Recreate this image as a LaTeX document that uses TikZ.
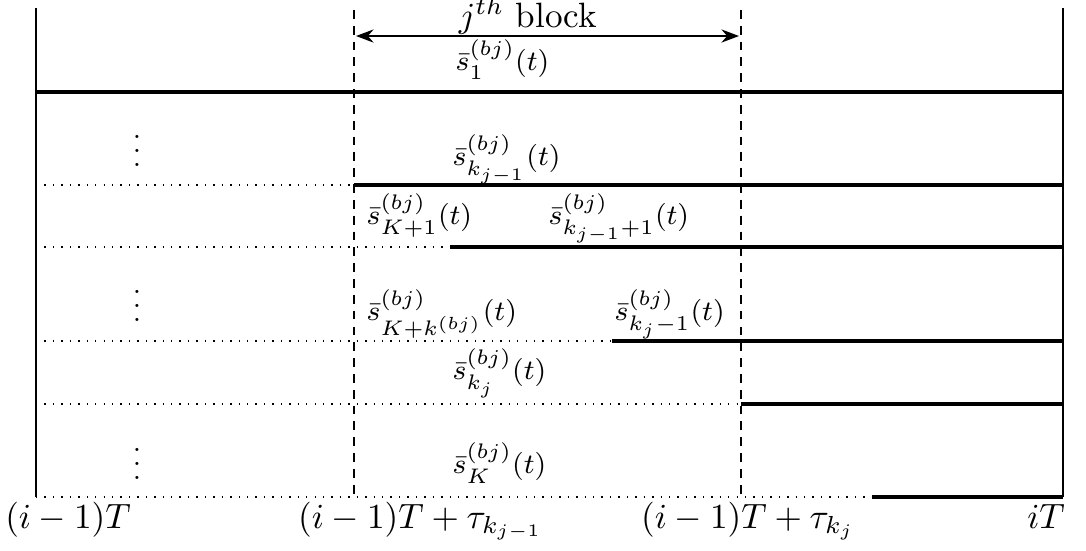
\documentclass[tikz,border=0pt]{standalone}
\usetikzlibrary{arrows.meta}

\begin{document}
\begin{tikzpicture}[
      x=0.01cm, y=-0.01cm,
      frame/.style={line width=0.6pt, draw=black},
      bound/.style={thin, dashed, dash pattern=on 2.5pt off 2pt, draw=black},
      idle/.style={thin, dotted, draw=black},
      busy/.style={line width=1.1pt, draw=black},
      span/.style={thin, {Stealth[length=5pt]}-{Stealth[length=5pt]}, draw=black},
      sig/.style={inner sep=0pt, anchor=base west, font=\footnotesize},
      tick/.style={inner sep=1pt, font=\normalsize}
      ]
      \useasboundingbox (0,0) rectangle (1086,550);

      % Frame
      \coordinate (tl) at (36,8);
      \coordinate (bl) at (36,497);
      \coordinate (tr) at (1063,8);
      \coordinate (br) at (1063,497);
      \draw [frame] (tl) -- (bl);
      \draw [frame] (tr) -- (br);

      % Block boundaries
      \coordinate (lo top) at (354,10);
      \coordinate (lo bot) at (354,497);
      \coordinate (hi top) at (741,10);
      \coordinate (hi bot) at (741,497);
      \draw [bound] (lo top) -- (lo bot);
      \draw [bound] (hi top) -- (hi bot);

      % Block width
      \coordinate (span l) at (356,36);
      \coordinate (span r) at (739,36);
      \draw [span] (span l) -- (span r);
      \node (block) [inner sep=0pt, anchor=base] at (528,27) {$j^{th}$ block};

      % Rows: level / start of transmission
      \foreach \y/\x [count=\i] in {92/36, 185/354, 247/450, 341/612, 404/741, 497/872} {
        \coordinate (row\i l) at (36,\y);
        \coordinate (row\i s) at (\x,\y);
        \coordinate (row\i r) at (1063,\y);
        \draw [idle] (row\i l) -- (row\i s);
        \draw [busy] (row\i s) -- (row\i r);
      }

      % Signals
      \node (s1) [sig] at (455,70) {$\bar{s}_{1}^{(bj)}(t)$};
      \node (dots1) [sig, anchor=center] at (137,140) {$\vdots$};
      \node (skp) [sig] at (452,165) {$\bar{s}_{k_{j-1}}^{(bj)}(t)$};
      \node (sK1) [sig] at (366,224) {$\bar{s}_{K+1}^{(bj)}(t)$};
      \node (skp1) [sig] at (548,224) {$\bar{s}_{k_{j-1}+1}^{(bj)}(t)$};
      \node (dots2) [sig, anchor=center] at (137,295) {$\vdots$};
      \node (sKk) [sig] at (366,320) {$\bar{s}_{K+k^{(bj)}}^{(bj)}(t)$};
      \node (skm1) [sig] at (614,320) {$\bar{s}_{k_j-1}^{(bj)}(t)$};
      \node (skj) [sig] at (452,379) {$\bar{s}_{k_j}^{(bj)}(t)$};
      \node (dots3) [sig, anchor=center] at (137,453) {$\vdots$};
      \node (sK) [sig] at (452,473) {$\bar{s}_{K}^{(bj)}(t)$};

      % Time axis
      \node (t0) [tick, anchor=base] at (68,528) {$(i-1)T$};
      \node (t1) [tick, anchor=base west] at (294,528) {$(i-1)T+\tau_{k_{j-1}}$};
      \node (t2) [tick, anchor=base west] at (637,528) {$(i-1)T+\tau_{k_j}$};
      \node (t3) [tick, anchor=base] at (1046,528) {$iT$};

    \end{tikzpicture}
\end{document}
